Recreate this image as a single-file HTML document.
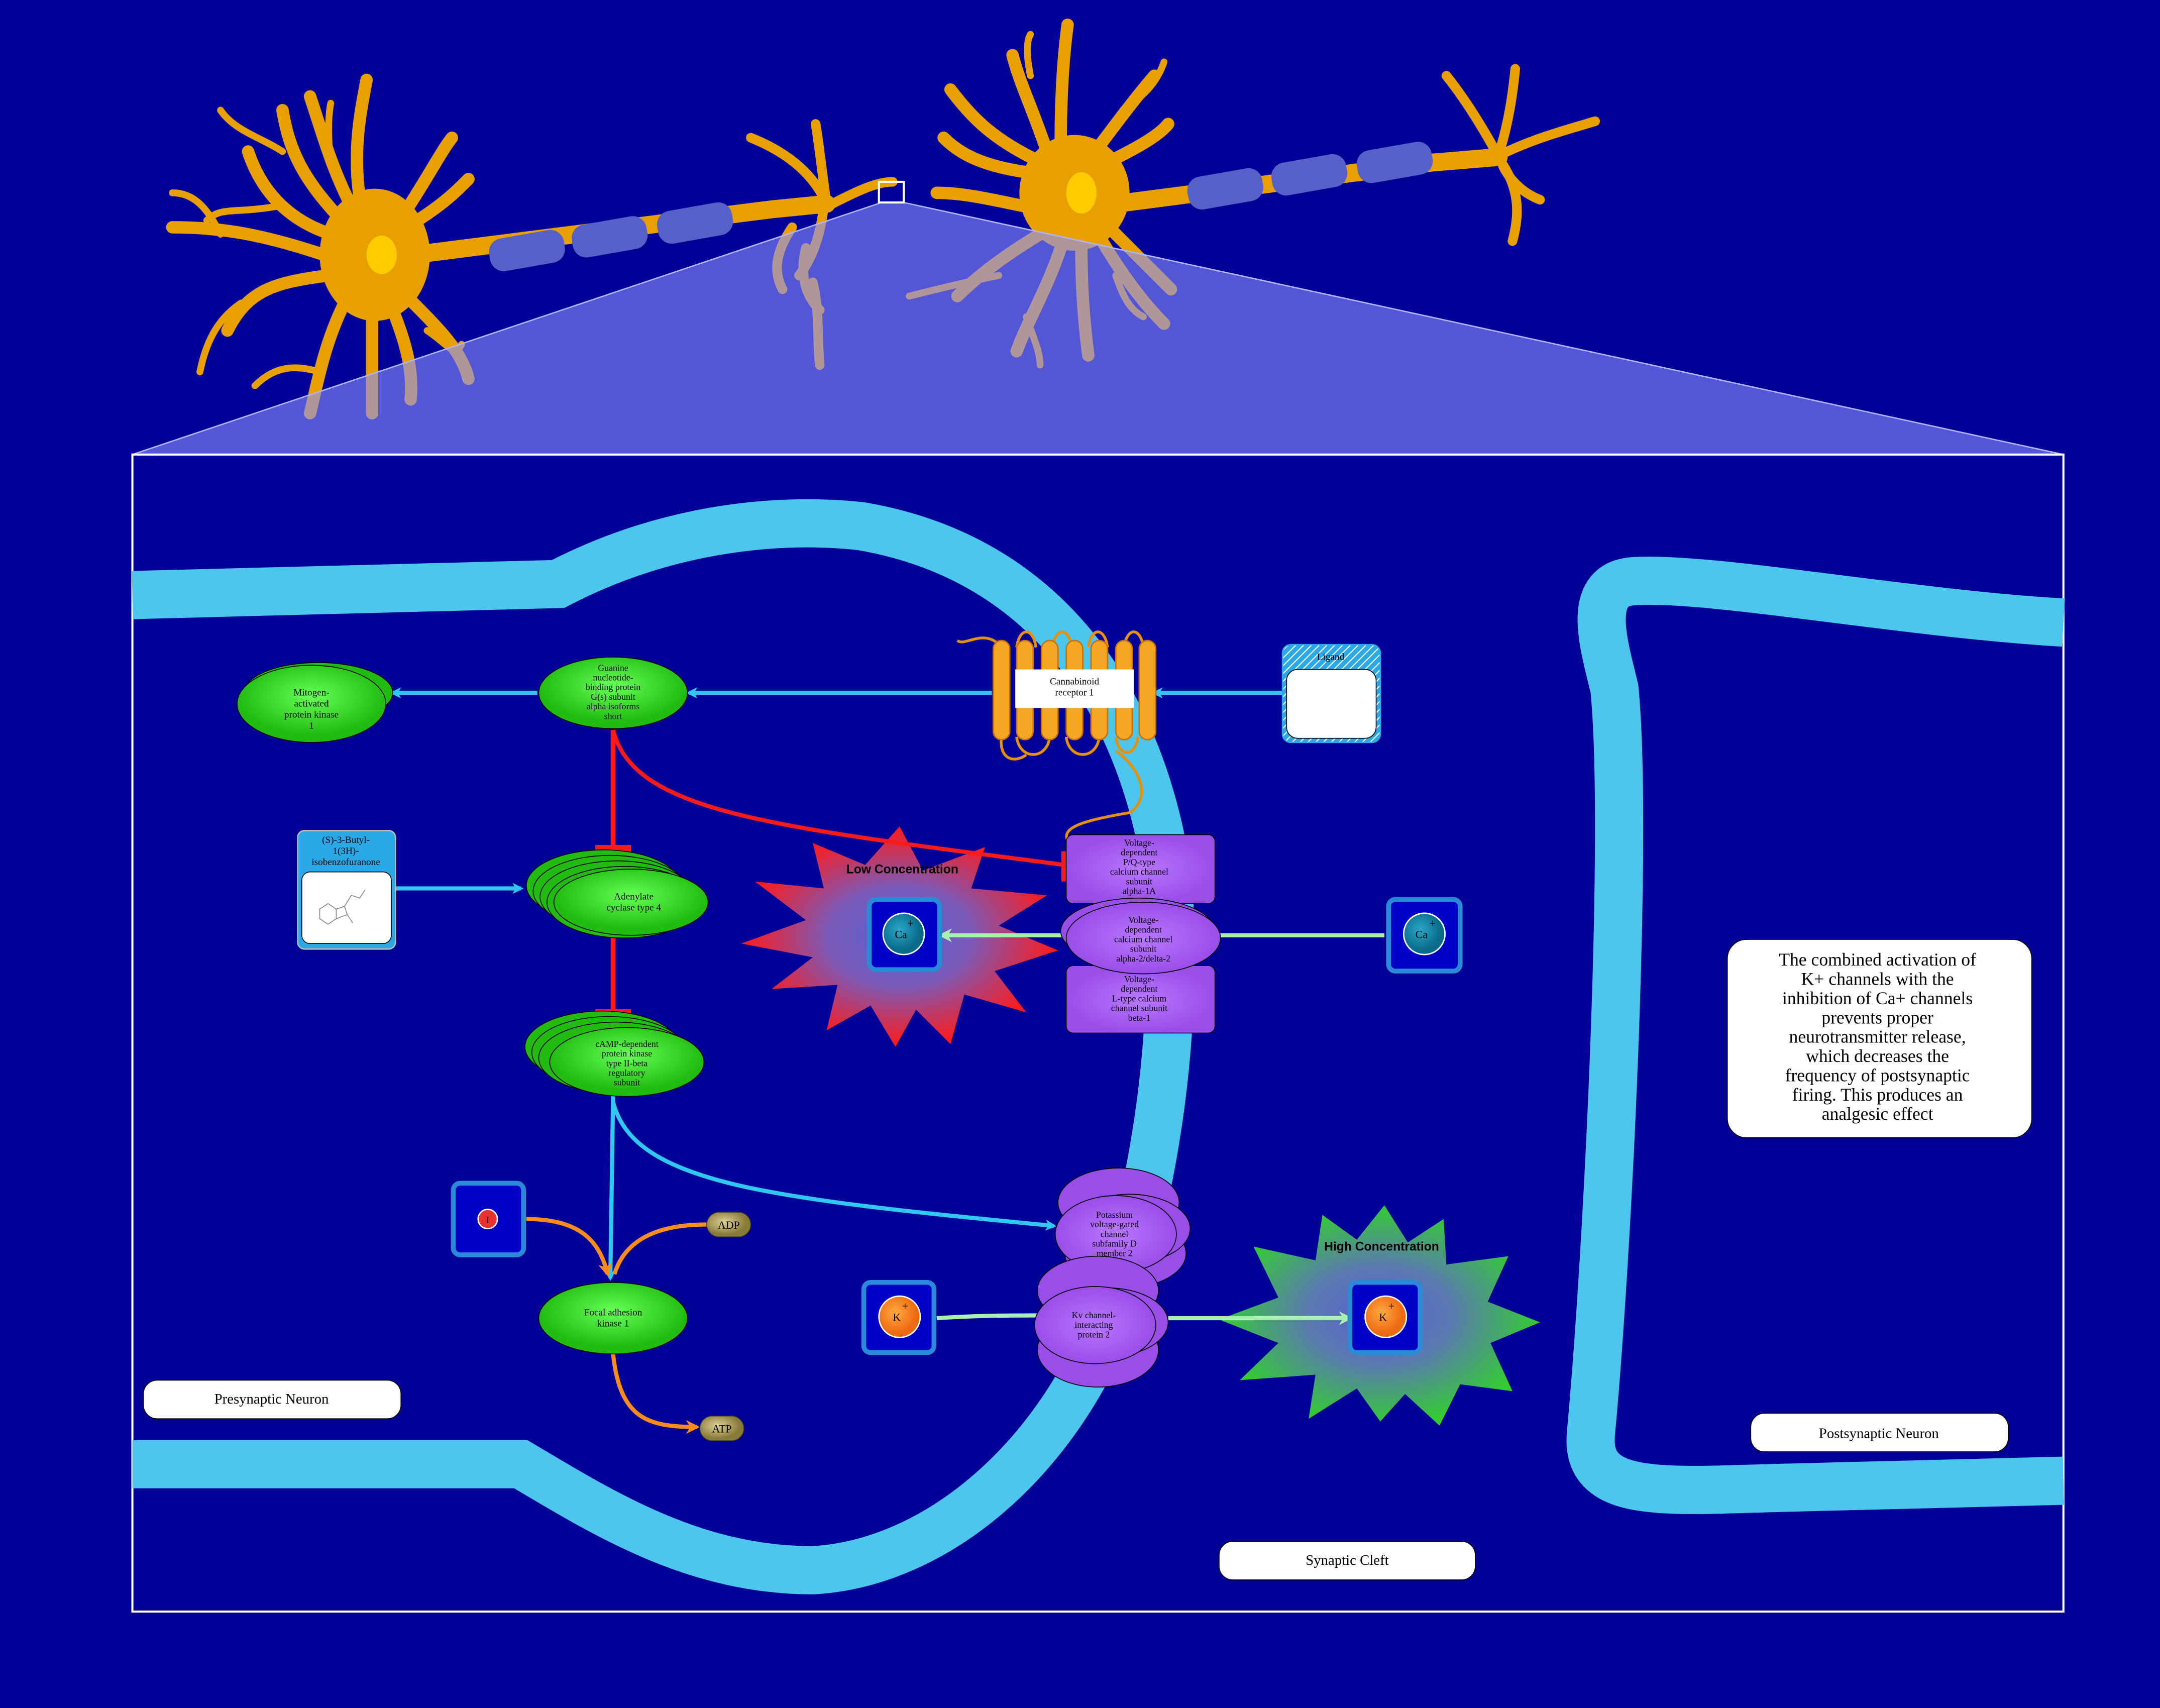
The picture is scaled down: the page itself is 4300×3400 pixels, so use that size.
<!DOCTYPE html>
<html><head><meta charset="utf-8"><style>
html,body{margin:0;padding:0;background:#000096;}
svg{display:block}
text{font-family:"Liberation Serif",serif;fill:#000}
</style></head><body>
<svg width="4300" height="3400" viewBox="0 0 1568 1240" xmlns="http://www.w3.org/2000/svg">
<defs>
<radialGradient id="gRed"><stop offset="0" stop-color="#5a5fd0"/><stop offset="0.45" stop-color="#7a5ab8"/><stop offset="1" stop-color="#ff1a1a"/></radialGradient>
<radialGradient id="gGreen"><stop offset="0" stop-color="#5a5fd0"/><stop offset="0.45" stop-color="#5a7ab0"/><stop offset="1" stop-color="#33cc33"/></radialGradient>
<radialGradient id="gEl" cx="0.5" cy="0.4"><stop offset="0" stop-color="#66ff55"/><stop offset="1" stop-color="#22bb11"/></radialGradient>
<radialGradient id="gPur"><stop offset="0" stop-color="#b877ff"/><stop offset="1" stop-color="#9a4ee8"/></radialGradient>
<radialGradient id="gCa" cx="0.4" cy="0.4"><stop offset="0" stop-color="#2aa8c8"/><stop offset="1" stop-color="#0a6a8a"/></radialGradient>
<radialGradient id="gK" cx="0.4" cy="0.4"><stop offset="0" stop-color="#ffaa44"/><stop offset="1" stop-color="#ee6a10"/></radialGradient>
<radialGradient id="gMol" cx="0.4" cy="0.4"><stop offset="0" stop-color="#dfd39a"/><stop offset="1" stop-color="#8a7a3a"/></radialGradient>
<pattern id="hatch" width="4" height="4" patternUnits="userSpaceOnUse" patternTransform="rotate(45)"><rect width="4" height="4" fill="#2aa8e8"/><line x1="0" y1="0" x2="0" y2="4" stroke="#fff" stroke-width="1.5"/></pattern>
<marker id="aB" markerWidth="8" markerHeight="8" refX="6" refY="4" orient="auto" markerUnits="userSpaceOnUse"><path d="M0,0 L8,4 L0,8 L2,4z" fill="#2ec8f0"/></marker>
<marker id="aO" markerWidth="10" markerHeight="10" refX="8" refY="5" orient="auto" markerUnits="userSpaceOnUse"><path d="M0,0 L10,5 L0,10 L3,5z" fill="#ff8c1a"/></marker>
<marker id="aG" markerWidth="10" markerHeight="10" refX="8" refY="5" orient="auto" markerUnits="userSpaceOnUse"><path d="M0,0 L10,5 L0,10 L3,5z" fill="#a8f0b0"/></marker>
</defs>
<rect width="1568" height="1240" fill="#000096"/>

<!-- neurons -->
<g fill="none" stroke="#e8a000" stroke-linecap="round" stroke-linejoin="round">
 <!-- left neuron -->
 <ellipse cx="272" cy="185" rx="40" ry="48" fill="#e8a000" stroke="none"/>
 <g stroke-width="9">
  <path d="M262,150 C255,110 262,80 266,58"/>
  <path d="M255,150 C240,120 235,100 225,70"/>
  <path d="M248,160 C220,130 210,110 205,80"/>
  <path d="M240,170 C210,160 190,140 180,110"/>
  <path d="M235,185 C190,170 160,165 125,165"/>
  <path d="M238,200 C200,205 180,210 165,240"/>
  <path d="M250,220 C235,250 230,280 225,300"/>
  <path d="M270,230 C270,260 270,280 270,300"/>
  <path d="M285,225 C295,250 300,270 298,290"/>
  <path d="M295,215 C320,240 335,255 340,275"/>
  <path d="M290,160 C310,130 320,110 328,100"/>
  <path d="M295,165 C320,150 330,140 340,130"/>
 </g>
 <g stroke-width="5">
  <path d="M240,120 C238,100 238,85 240,75"/>
  <path d="M205,110 C190,100 170,95 160,80"/>
  <path d="M160,170 C150,150 140,140 125,140"/>
  <path d="M175,220 C160,230 150,245 145,270"/>
  <path d="M232,270 C215,265 200,265 185,280"/>
  <path d="M310,240 C325,250 330,260 335,250"/>
  <path d="M200,150 C170,155 160,150 150,160"/>
 </g>
 <!-- axon 1 -->
 <path d="M300,185 L560,152 L600,148" stroke-width="13"/>
 <!-- dendrites near synapse -->
 <g stroke-width="7">
  <path d="M600,148 C590,125 570,110 545,100"/>
  <path d="M600,148 C596,120 594,100 592,90"/>
  <path d="M600,150 C620,140 635,132 648,132"/>
  <path d="M598,150 C595,175 588,190 580,200"/>
  <path d="M585,180 C580,200 585,215 595,225"/>
  <path d="M575,165 C565,180 560,195 568,210"/>
  <path d="M590,205 C595,225 593,245 595,265"/>
 </g>
 <!-- right neuron -->
 <ellipse cx="780" cy="140" rx="40" ry="42" fill="#e8a000" stroke="none"/>
 <g stroke-width="9">
  <path d="M770,105 C770,70 772,40 775,18"/>
  <path d="M760,110 C750,80 740,60 735,40"/>
  <path d="M750,115 C720,100 705,85 690,65"/>
  <path d="M745,125 C710,120 695,110 685,100"/>
  <path d="M795,110 C810,90 825,70 838,55"/>
  <path d="M800,120 C820,110 840,100 848,90"/>
  <path d="M745,150 C720,145 700,140 680,140"/>
  <path d="M755,170 C730,185 710,200 695,215"/>
  <path d="M770,180 C760,210 745,235 738,255"/>
  <path d="M785,182 C785,210 787,235 790,258"/>
  <path d="M800,175 C815,200 830,220 845,235"/>
  <path d="M805,165 C825,185 840,200 850,210"/>
 </g>
 <g stroke-width="5">
  <path d="M748,55 C745,40 745,30 748,25"/>
  <path d="M725,200 C700,205 680,210 660,215"/>
  <path d="M745,230 C750,245 755,255 755,265"/>
  <path d="M810,200 C815,215 820,225 830,230"/>
  <path d="M815,80 C830,70 840,60 845,45"/>
 </g>
 <!-- axon 2 -->
 <path d="M810,148 L1040,118 L1088,114" stroke-width="13"/>
 <!-- terminal -->
 <g stroke-width="7">
  <path d="M1088,114 C1075,90 1062,70 1050,55"/>
  <path d="M1088,112 C1095,90 1098,70 1100,50"/>
  <path d="M1090,112 C1115,100 1135,95 1158,88"/>
  <path d="M1090,118 C1105,140 1102,160 1098,175"/>
  <path d="M1090,118 C1095,130 1105,140 1118,145"/>
 </g>
</g>
<ellipse cx="277" cy="185" rx="11" ry="14" fill="#ffcc00"/>
<ellipse cx="785" cy="140" rx="11" ry="15" fill="#ffcc00"/>
<g fill="#5560c8">
 <rect x="355" y="170" width="55" height="24" rx="10" transform="rotate(-10 382 182)"/>
 <rect x="415" y="160" width="55" height="24" rx="10" transform="rotate(-10 442 172)"/>
 <rect x="477" y="150" width="55" height="24" rx="10" transform="rotate(-10 504 162)"/>
 <rect x="862" y="125" width="55" height="24" rx="10" transform="rotate(-10 890 137)"/>
 <rect x="923" y="115" width="55" height="24" rx="10" transform="rotate(-10 950 127)"/>
 <rect x="985" y="106" width="55" height="24" rx="10" transform="rotate(-10 1012 118)"/>
</g>
<polygon points="640,147 656,147 1498,330 96,330" fill="#8a90ff" fill-opacity="0.6" stroke="#b0b4ff" stroke-width="1"/>
<rect x="638" y="132" width="18" height="15" fill="none" stroke="#fff" stroke-width="1.5"/>

<!-- main box -->
<rect x="96" y="330" width="1402" height="840" fill="#000096" stroke="#fff" stroke-width="1.5"/>

<!-- membranes -->
<path d="M96,432 L405,424 C480,385 560,375 625,382 C760,405 830,510 848,640 C855,750 840,860 805,960 C765,1060 680,1135 590,1140 C505,1140 440,1100 378,1063 L96,1063" fill="none" stroke="#4cc6ef" stroke-width="35"/>
<path d="M1498,452 C1380,445 1240,418 1185,422 C1150,425 1165,470 1172,500 C1182,600 1168,900 1155,1040 C1150,1090 1210,1082 1300,1080 L1498,1075" fill="none" stroke="#4cc6ef" stroke-width="35"/>

<!-- starbursts -->
<polygon points="653,600 670,632 715,615 705,645 760,650 725,672 768,690 722,705 745,735 700,722 690,758 665,733 650,760 632,730 600,748 608,715 560,718 590,695 538,685 585,668 548,640 598,645 590,612 628,628" fill="url(#gRed)"/>
<text x="655" y="634" font-size="9" font-weight="bold" text-anchor="middle" style="font-family:'Liberation Sans',sans-serif">Low Concentration</text>
<polygon points="1005,875 1022,902 1048,885 1050,918 1095,912 1080,945 1118,960 1082,975 1098,1010 1060,1005 1045,1035 1020,1012 1002,1032 985,1008 950,1030 955,998 900,1002 928,975 885,958 928,942 910,905 955,915 960,882 985,900" fill="url(#gGreen)"/>
<text x="1003" y="908" font-size="9" font-weight="bold" text-anchor="middle" style="font-family:'Liberation Sans',sans-serif">High Concentration</text>

<!-- edges -->
<g fill="none" stroke-width="3">
 <path d="M935,503 L838,503" stroke="#2ec8f0" marker-end="url(#aB)"/>
 <path d="M720,503 L500,503" stroke="#2ec8f0" marker-end="url(#aB)"/>
 <path d="M390,503 L285,503" stroke="#2ec8f0" marker-end="url(#aB)"/>
 <path d="M287,645 L378,645" stroke="#2ec8f0" marker-end="url(#aB)"/>
 <path d="M445,795 L443,928" stroke="#2ec8f0" marker-end="url(#aB)"/>
 <path d="M445,800 C460,860 560,870 765,890" stroke="#2ec8f0" marker-end="url(#aB)"/>
 <path d="M445,530 L445,615" stroke="#ff1a1a" stroke-width="3.5"/>
 <path d="M432,616 L458,616" stroke="#ff1a1a" stroke-width="5"/>
 <path d="M445,678 L445,735" stroke="#ff1a1a" stroke-width="3.5"/>
 <path d="M432,735 L458,735" stroke="#ff1a1a" stroke-width="5"/>
 <path d="M445,530 C460,590 560,600 773,628" stroke="#ff1a1a" stroke-width="3"/>
 <path d="M773,618 L773,640" stroke="#ff1a1a" stroke-width="5"/>
 <path d="M1005,679 L885,679" stroke="#a8f0b0"/>
 <path d="M775,679 L683,679" stroke="#a8f0b0" marker-end="url(#aG)"/>
 <path d="M680,957 C710,955 730,955 755,955" stroke="#a8f0b0"/>
 <path d="M848,957 L980,957" stroke="#a8f0b0" marker-end="url(#aG)"/>
 <path d="M382,885 C420,885 435,900 441,925" stroke="#ff8c1a" marker-end="url(#aO)"/>
 <path d="M513,889 C470,889 452,905 446,925" stroke="#ff8c1a"/>
 <path d="M445,983 C450,1030 470,1036 506,1036" stroke="#ff8c1a" marker-end="url(#aO)"/>
 <path d="M810,545 C830,560 835,580 820,590 C790,595 770,600 775,610" stroke="#e89000" stroke-width="2"/>
</g>

<!-- GPCR -->
<g stroke="#e89000" stroke-width="2" fill="none">
 <path d="M727,470 C715,455 700,470 695,465 M738,470 C740,455 750,455 752,470 M764,470 C766,455 776,455 778,470 M790,470 C792,455 802,455 804,470 M816,470 C818,455 828,455 830,470"/>
 <path d="M738,535 C740,552 760,552 762,535 M774,535 C776,552 796,552 798,535 M810,535 C812,550 824,550 826,535 M727,535 C725,550 735,555 745,548"/>
</g>
<g fill="#f5a623" stroke="#c87000" stroke-width="1">
 <rect x="721" y="465" width="12" height="72" rx="6"/><rect x="738" y="465" width="12" height="72" rx="6"/><rect x="756" y="465" width="12" height="72" rx="6"/><rect x="774" y="465" width="12" height="72" rx="6"/><rect x="792" y="465" width="12" height="72" rx="6"/><rect x="810" y="465" width="12" height="72" rx="6"/><rect x="827" y="465" width="12" height="72" rx="6"/>
</g>
<rect x="737" y="486" width="86" height="28" fill="#fff"/>
<text x="780" y="497" font-size="7" text-anchor="middle">Cannabinoid</text>
<text x="780" y="505" font-size="7" text-anchor="middle">receptor 1</text>

<!-- ligand -->
<rect x="931" y="468" width="71" height="71" rx="6" fill="url(#hatch)" stroke="#2aa8e8"/>
<rect x="934" y="486" width="65" height="50" rx="8" fill="#fff" stroke="#000" stroke-width="0.6"/>
<text x="966" y="479" font-size="7" text-anchor="middle">Ligand</text>

<!-- green nodes -->
<ellipse cx="231" cy="503" rx="54" ry="22" fill="#22bb11" stroke="#000" stroke-width="0.6"/>
<ellipse cx="226" cy="511" rx="54" ry="28" fill="url(#gEl)" stroke="#000" stroke-width="0.6"/>
<text font-size="7" text-anchor="middle"><tspan x="226" y="505">Mitogen-</tspan><tspan x="226" y="513">activated</tspan><tspan x="226" y="521">protein kinase</tspan><tspan x="226" y="529">1</tspan></text>

<ellipse cx="445" cy="503" rx="54" ry="26" fill="url(#gEl)" stroke="#000" stroke-width="0.6"/>
<text font-size="6.5" text-anchor="middle"><tspan x="445" y="487">Guanine</tspan><tspan x="445" y="494">nucleotide-</tspan><tspan x="445" y="501">binding protein</tspan><tspan x="445" y="508">G(s) subunit</tspan><tspan x="445" y="515">alpha isoforms</tspan><tspan x="445" y="522">short</tspan></text>

<g stroke="#000" stroke-width="0.6">
<ellipse cx="438" cy="643" rx="56" ry="26" fill="#22bb11"/>
<ellipse cx="443" cy="647" rx="56" ry="26" fill="#22bb11"/>
<ellipse cx="448" cy="651" rx="56" ry="26" fill="#22bb11"/>
<ellipse cx="453" cy="655" rx="56" ry="26" fill="#22bb11"/>
<ellipse cx="458" cy="655" rx="56" ry="24" fill="url(#gEl)"/>
</g>
<text font-size="7" text-anchor="middle"><tspan x="460" y="653">Adenylate</tspan><tspan x="460" y="661">cyclase type 4</tspan></text>

<g stroke="#000" stroke-width="0.6">
<ellipse cx="437" cy="760" rx="56" ry="26" fill="#22bb11"/>
<ellipse cx="442" cy="764" rx="56" ry="26" fill="#22bb11"/>
<ellipse cx="447" cy="768" rx="56" ry="26" fill="#22bb11"/>
<ellipse cx="455" cy="771" rx="56" ry="25" fill="url(#gEl)"/>
</g>
<text font-size="6.5" text-anchor="middle"><tspan x="455" y="760">cAMP-dependent</tspan><tspan x="455" y="767">protein kinase</tspan><tspan x="455" y="774">type II-beta</tspan><tspan x="455" y="781">regulatory</tspan><tspan x="455" y="788">subunit</tspan></text>

<ellipse cx="445" cy="957" rx="54" ry="26" fill="url(#gEl)" stroke="#000" stroke-width="0.6"/>
<text font-size="7" text-anchor="middle"><tspan x="445" y="955">Focal adhesion</tspan><tspan x="445" y="963">kinase 1</tspan></text>

<!-- small molecule -->
<rect x="216" y="603" width="71" height="86" rx="5" fill="#2aa8e8" stroke="#bbb"/>
<rect x="219" y="633" width="65" height="52" rx="6" fill="#fff" stroke="#000" stroke-width="0.6"/>
<text font-size="7" text-anchor="middle"><tspan x="251" y="612">(S)-3-Butyl-</tspan><tspan x="251" y="620">1(3H)-</tspan><tspan x="251" y="628">isobenzofuranone</tspan></text>
<path d="M232,660 l6,-4 l6,4 l0,7 l-6,4 l-6,-4z M244,660 l6,-2 l2,6 l-8,3 M252,664 l4,6 M250,658 l5,-8 l6,2 l4,-6" fill="none" stroke="#888" stroke-width="0.6"/>

<!-- purple channels -->
<rect x="774" y="606" width="108" height="50" rx="5" fill="url(#gPur)" stroke="#000" stroke-width="0.6"/>
<text font-size="6.5" text-anchor="middle"><tspan x="827" y="614">Voltage-</tspan><tspan x="827" y="621">dependent</tspan><tspan x="827" y="628">P/Q-type</tspan><tspan x="827" y="635">calcium channel</tspan><tspan x="827" y="642">subunit</tspan><tspan x="827" y="649">alpha-1A</tspan></text>
<rect x="774" y="701" width="108" height="49" rx="5" fill="url(#gPur)" stroke="#000" stroke-width="0.6"/>
<text font-size="6.5" text-anchor="middle"><tspan x="827" y="713">Voltage-</tspan><tspan x="827" y="720">dependent</tspan><tspan x="827" y="727">L-type calcium</tspan><tspan x="827" y="734">channel subunit</tspan><tspan x="827" y="741">beta-1</tspan></text>
<ellipse cx="826" cy="676" rx="56" ry="24" fill="#9a4ee8" stroke="#000" stroke-width="0.6"/>
<ellipse cx="830" cy="681" rx="56" ry="26" fill="url(#gPur)" stroke="#000" stroke-width="0.6"/>
<text font-size="6.5" text-anchor="middle"><tspan x="830" y="670">Voltage-</tspan><tspan x="830" y="677">dependent</tspan><tspan x="830" y="684">calcium channel</tspan><tspan x="830" y="691">subunit</tspan><tspan x="830" y="698">alpha-2/delta-2</tspan></text>

<g stroke="#000" stroke-width="0.6">
<ellipse cx="812" cy="873" rx="44" ry="25" fill="#9a4ee8"/>
<ellipse cx="817" cy="910" rx="44" ry="25" fill="#9a4ee8"/>
<ellipse cx="820" cy="892" rx="44" ry="25" fill="#9a4ee8"/>
<ellipse cx="810" cy="896" rx="44" ry="28" fill="url(#gPur)"/>
</g>
<text font-size="6.5" text-anchor="middle"><tspan x="809" y="884">Potassium</tspan><tspan x="809" y="891">voltage-gated</tspan><tspan x="809" y="898">channel</tspan><tspan x="809" y="905">subfamily D</tspan><tspan x="809" y="912">member 2</tspan></text>
<g stroke="#000" stroke-width="0.6">
<ellipse cx="797" cy="937" rx="44" ry="25" fill="#9a4ee8"/>
<ellipse cx="797" cy="980" rx="44" ry="27" fill="#9a4ee8"/>
<ellipse cx="804" cy="960" rx="44" ry="25" fill="#9a4ee8"/>
<ellipse cx="795" cy="962" rx="44" ry="28" fill="url(#gPur)"/>
</g>
<text font-size="6.5" text-anchor="middle"><tspan x="794" y="957">Kv channel-</tspan><tspan x="794" y="964">interacting</tspan><tspan x="794" y="971">protein 2</tspan></text>

<!-- ion nodes -->
<g stroke="#2a8ad8" stroke-width="3.5" fill="#0000c8">
 <rect x="631" y="653" width="51" height="51" rx="5"/>
 <rect x="1008" y="653" width="52" height="52" rx="5"/>
 <rect x="980" y="931" width="51" height="51" rx="5"/>
 <rect x="627" y="931" width="51" height="51" rx="5"/>
 <rect x="329" y="859" width="51" height="52" rx="5"/>
</g>
<g stroke="#fff" stroke-width="1">
<circle cx="656" cy="678" r="15" fill="url(#gCa)"/>
<circle cx="1034" cy="678" r="15" fill="url(#gCa)"/>
<circle cx="1006" cy="956" r="15" fill="url(#gK)"/>
<circle cx="653" cy="956" r="15" fill="url(#gK)"/>
<circle cx="354" cy="885" r="7" fill="#e83030"/>
</g>
<text font-size="8" text-anchor="middle"><tspan x="654" y="681">Ca</tspan><tspan x="1032" y="681">Ca</tspan><tspan x="1004" y="959">K</tspan><tspan x="651" y="959">K</tspan><tspan x="354" y="888" font-size="7">I</tspan></text>
<text font-size="8" text-anchor="middle"><tspan x="661" y="673">+</tspan><tspan x="1040" y="673">+</tspan><tspan x="1010" y="951">+</tspan><tspan x="657" y="951">+</tspan></text>

<!-- ADP/ATP -->
<rect x="513" y="880" width="32" height="18" rx="9" fill="url(#gMol)" stroke="#333" stroke-width="0.6"/>
<text x="529" y="892" font-size="8" text-anchor="middle">ADP</text>
<rect x="508" y="1028" width="32" height="18" rx="9" fill="url(#gMol)" stroke="#333" stroke-width="0.6"/>
<text x="524" y="1040" font-size="8" text-anchor="middle">ATP</text>

<!-- labels -->
<g fill="#fff" stroke="#000" stroke-width="0.6">
<rect x="104" y="1002" width="187" height="28" rx="10"/>
<rect x="1271" y="1026" width="187" height="28" rx="10"/>
<rect x="885" y="1119" width="186" height="28" rx="10"/>
<rect x="1254" y="682" width="221" height="144" rx="14"/>
</g>
<text x="197" y="1019" font-size="10.5" text-anchor="middle">Presynaptic Neuron</text>
<text x="1364" y="1044" font-size="10.5" text-anchor="middle">Postsynaptic Neuron</text>
<text x="978" y="1136" font-size="10.5" text-anchor="middle">Synaptic Cleft</text>
<text font-size="13" text-anchor="middle"><tspan x="1363" y="701">The combined activation of</tspan><tspan x="1363" y="715">K+ channels with the</tspan><tspan x="1363" y="729">inhibition of Ca+ channels</tspan><tspan x="1363" y="743">prevents proper</tspan><tspan x="1363" y="757">neurotransmitter release,</tspan><tspan x="1363" y="771">which decreases the</tspan><tspan x="1363" y="785">frequency of postsynaptic</tspan><tspan x="1363" y="799">firing. This produces an</tspan><tspan x="1363" y="813">analgesic effect</tspan></text>
</svg>
</body></html>
